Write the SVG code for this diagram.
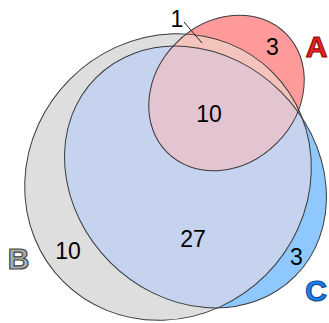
<svg xmlns="http://www.w3.org/2000/svg" xmlns:xlink="http://www.w3.org/1999/xlink" width="329" height="323" viewBox="0 0 329 323">
<style>
.outline{fill:none;stroke:#3a3a3a;stroke-width:1}
.num{font-family:"Liberation Sans",Arial,sans-serif;font-size:23px;fill:#000;text-anchor:middle}
.set{font-family:"Liberation Sans",Arial,sans-serif;font-size:30px;font-weight:bold;text-anchor:middle;stroke-width:1.2;paint-order:fill}
</style>
<defs>
<ellipse id="shB" cx="0" cy="0" rx="148" ry="138.5" transform="translate(168 177) rotate(-45)"/>
<ellipse id="shC" cx="0" cy="0" rx="140.6" ry="120.6" transform="translate(195.5 177) rotate(45)"/>
<ellipse id="shA" cx="0" cy="0" rx="84" ry="71" transform="translate(226.5 93) rotate(-45)"/>
<clipPath id="clipB"><use xlink:href="#shB"/></clipPath>
<clipPath id="clipC"><use xlink:href="#shC"/></clipPath>
</defs>
<g id="regions">
<use xlink:href="#shB" fill="#dedede"/>
<use xlink:href="#shC" fill="#8fc8ff"/>
<use xlink:href="#shC" fill="#c5d3ee" clip-path="url(#clipB)"/>
<use xlink:href="#shA" fill="#ff9a9a"/>
<use xlink:href="#shA" fill="#f4c4bc" clip-path="url(#clipB)"/>
<use xlink:href="#shA" fill="#e3c4d1" clip-path="url(#clipC)"/>
</g>
<g id="B">
<use xlink:href="#shB" class="outline"/>
<text class="set" x="18.5" y="269" fill="#ababab" stroke="#444">B</text>
<text class="num" x="68" y="259">10</text>
</g>
<g id="C">
<use xlink:href="#shC" class="outline"/>
<text class="set" x="316" y="301" fill="#1f80e8" stroke="#0d4f9a">C</text>
<text class="num" x="296.5" y="265">3</text>
</g>
<g id="A">
<use xlink:href="#shA" class="outline"/>
<text class="set" x="316.5" y="57" fill="#ee2222" stroke="#8a0d0d">A</text>
<text class="num" x="272.5" y="55">3</text>
</g>
<g id="intersections">
<text class="num" x="209" y="122">10</text>
<text class="num" x="193" y="247">27</text>
<text class="num" x="177" y="27">1</text>
</g>
<g id="connectors">
<line x1="184" y1="22" x2="202" y2="43" stroke="#222" stroke-width="1"/>
</g>
</svg>
